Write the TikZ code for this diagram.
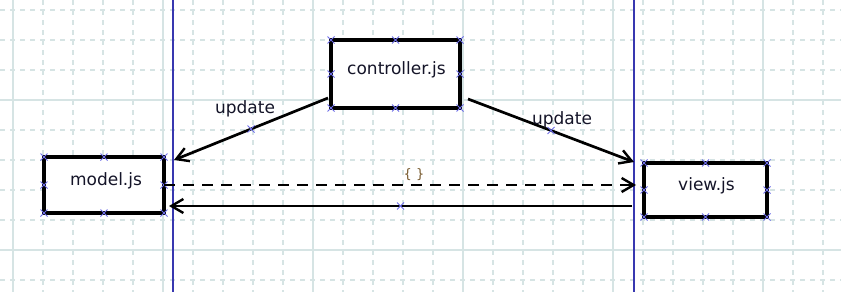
\documentclass[tikz,border=0pt]{standalone}
\usepackage{fontspec}
\setmainfont{DejaVu Sans}
\usetikzlibrary{arrows.meta,shapes.misc}

\definecolor{rejilla}{HTML}{D6E4E4}
\definecolor{vida}{HTML}{3838B0}
\definecolor{marca}{HTML}{6E6EE8}
\definecolor{texto}{HTML}{141428}
\definecolor{llave}{HTML}{76582C}

\tikzset{
  caja/.style={draw,line width=3.2pt,fill=white,outer sep=0pt,inner sep=0pt},
  etiqueta/.style={text=texto,font=\fontsize{17}{20}\selectfont},
  flecha/.style={line width=2.7pt,-{Straight Barb[length=12pt,width=14pt,line width=2.4pt]}},
  marcax/.style={cross out,draw=marca,line width=1pt,minimum size=7pt,inner sep=0pt,outer sep=0pt}
}

% Cruces en esquinas y puntos medios de una caja
\newcommand{\marcas}[1]{%
  \foreach \a in {north west,north,north east,east,south east,south,south west,west}
    \node[marcax] at (#1.\a) {};%
}

\begin{document}
\begin{tikzpicture}[x=1pt,y=-1pt]
  \useasboundingbox (0,0) rectangle (841,292);

  % Rejilla: punteada cada 30, continua cada 150
  \foreach \x in {13,43,...,823}
    \draw[rejilla,line width=1.4pt,dash pattern=on 5pt off 5pt] (\x,0) -- (\x,292);
  \foreach \y in {10,40,...,280}
    \draw[rejilla,line width=1.4pt,dash pattern=on 5pt off 5pt] (0,\y) -- (841,\y);
  \foreach \x in {13,163,313,463,613,763}
    \draw[rejilla,line width=1.4pt] (\x,0) -- (\x,292);
  \foreach \y in {100,250}
    \draw[rejilla,line width=1.4pt] (0,\y) -- (841,\y);

  % Lineas verticales azules
  \draw[vida,line width=1.6pt] (173,0) -- (173,292);
  \draw[vida,line width=1.6pt] (634,0) -- (634,292);

  % Cajas
  \node[caja,minimum width=120pt,minimum height=56pt,
        label={[etiqueta,yshift=4pt,xshift=2pt]center:model.js}] (model) at (104,185) {};
  \node[caja,minimum width=129pt,minimum height=68pt,
        label={[etiqueta,yshift=4pt,xshift=1pt]center:controller.js}] (controller) at (395.5,74) {};
  \node[caja,minimum width=123pt,minimum height=54pt,
        label={[etiqueta,yshift=4pt,xshift=1pt]center:view.js}] (view) at (705.5,190) {};
  \marcas{model}
  \marcas{controller}
  \marcas{view}

  % Extremos de las flechas
  \coordinate (ctlL) at (328,98);
  \coordinate (ctlR) at (468,99);
  \coordinate (modelUp) at (174,160);
  \coordinate (viewUp) at (634,162);
  \coordinate (viewIn) at (636,185);
  \coordinate (viewOut) at (632,206);
  \coordinate (modelIn) at (169,206);

  % Flechas de actualizacion
  \draw[flecha] (ctlL) -- (modelUp) node[marcax,pos=0.5] (mA) {};
  \draw[flecha] (ctlR) -- (viewUp) node[marcax,pos=0.5] (mB) {};
  \node[etiqueta] (upA) at (245,109) {update};
  \node[etiqueta] (upB) at (562,120) {update};

  % Mensaje punteado y retorno
  \draw[flecha,dash pattern=on 11pt off 8pt] (model.east |- viewIn) -- (viewIn);
  \node[text=llave,font=\fontsize{13}{15}\selectfont] (obj) at (414,175) {\{ \}};
  \draw[flecha] (viewOut) -- (modelIn) node[marcax,pos=0.5] (mC) {};
\end{tikzpicture}
\end{document}
